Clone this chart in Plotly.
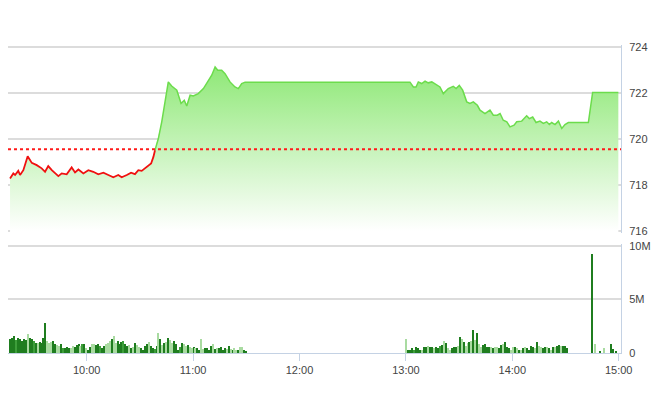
import plotly.graph_objects as go
import pandas as pd

DAY = "2019-01-02 "

# ---- price (index) data ----
red_times = ["09:16:45", "09:18:36", "09:19:36", "09:21:24", "09:22:24", "09:24:15", "09:26:42",
             "09:29:00", "09:31:48", "09:34:36", "09:36:30", "09:38:18", "09:40:18", "09:42:06",
             "09:44:00", "09:45:54", "09:48:42", "09:51:30", "09:53:24", "09:55:18", "09:58:06",
             "10:00:54", "10:03:42", "10:06:30", "10:09:24", "10:12:12", "10:15:00", "10:17:48",
             "10:19:42", "10:22:36", "10:25:00", "10:27:12", "10:29:06", "10:31:00", "10:33:48",
             "10:36:18", "10:37:36", "10:38:30"]
red_prices = [718.28, 718.50, 718.43, 718.61, 718.43, 718.64, 719.25,
              718.96, 718.86, 718.72, 718.57, 718.82, 718.64, 718.50,
              718.38, 718.50, 718.46, 718.76, 718.54, 718.67, 718.50,
              718.64, 718.57, 718.46, 718.53, 718.43, 718.33, 718.43,
              718.33, 718.43, 718.53, 718.47, 718.64, 718.61, 718.76,
              718.93, 719.22, 719.51]

green_times = ["10:38:30", "10:40:24", "10:42:18", "10:44:12", "10:46:00", "10:47:54", "10:50:48",
               "10:53:12", "10:55:00", "10:56:24", "10:58:18", "11:00:06", "11:02:54", "11:05:48",
               "11:08:36", "11:10:30", "11:12:24", "11:13:54", "11:16:06", "11:18:00", "11:20:48",
               "11:23:36", "11:25:30", "11:27:24", "11:29:18", "13:02:18", "13:04:12", "13:05:42",
               "13:07:00", "13:08:54", "13:10:48", "13:12:36", "13:14:36", "13:17:24", "13:19:12",
               "13:21:06", "13:23:54", "13:26:42", "13:28:18", "13:30:06", "13:32:00", "13:34:18",
               "13:36:06", "13:38:00", "13:40:18", "13:41:48", "13:44:36", "13:47:24", "13:49:18",
               "13:51:30", "13:53:06", "13:54:54", "13:56:54", "13:58:42", "14:01:00", "14:02:30",
               "14:05:18", "14:08:06", "14:09:36", "14:11:30", "14:13:24", "14:15:36", "14:17:30",
               "14:19:24", "14:20:54", "14:22:12", "14:24:06", "14:26:00", "14:26:54", "14:27:54",
               "14:29:42", "14:31:36", "14:42:54", "14:45:18", "14:59:48"]
green_prices = [719.51, 720.02, 720.75, 721.62, 722.49, 722.31, 722.13,
                721.55, 721.69, 721.44, 721.91, 721.88, 721.98, 722.20,
                722.56, 722.78, 723.14, 723.00, 723.00, 722.85, 722.49,
                722.27, 722.20, 722.42, 722.48, 722.48, 722.27, 722.27,
                722.49, 722.42, 722.52, 722.45, 722.49, 722.34, 722.27,
                721.98, 722.20, 722.30, 722.20, 722.34, 722.13, 721.62,
                721.55, 721.62, 721.47, 721.26, 721.11, 721.26, 721.04,
                721.04, 721.11, 720.82, 720.75, 720.53, 720.60, 720.75,
                720.78, 721.01, 720.89, 720.96, 720.72, 720.78, 720.68,
                720.75, 720.63, 720.72, 720.63, 720.78, 720.60, 720.46,
                720.63, 720.72, 720.72, 722.03, 722.03]

ref_price = 719.55

# ---- volume data (millions) ----
vol_am = [1.31, 1.46, 1.62, 1.25, 1.46, 1.37, 1.15, 1.31, 1.25, 1.78,
          1.46, 1.31, 1.15, 1.00, 1.00, 1.06, 1.00, 1.46, 2.87, 1.15,
          1.00, 1.06, 1.15, 0.84, 0.75, 0.69, 0.84, 0.53, 0.53, 0.62,
          0.53, 0.53, 0.69, 0.62, 0.75, 0.93, 0.69, 0.84, 0.93, 0.53,
          0.37, 0.62, 0.84, 0.93, 0.75, 0.84, 0.69, 0.53, 0.69, 0.84,
          1.00, 1.15, 1.31, 1.62, 1.00, 1.15, 0.84, 1.06, 1.15, 0.84,
          0.69, 0.75, 0.53, 0.62, 1.00, 0.75, 0.62, 0.53, 0.37, 0.69,
          0.93, 1.06, 0.69, 0.53, 0.44, 0.69, 1.93, 1.31, 0.75, 1.00,
          1.06, 1.46, 1.25, 1.00, 1.15, 0.84, 0.37, 0.62, 1.00, 0.84,
          0.69, 0.75, 0.62, 0.53, 0.62, 0.50, 0.53, 0.37, 1.37, 0.44,
          0.53, 0.53, 0.37, 0.69, 0.84, 0.44, 0.53, 0.53, 0.62, 0.37,
          0.53, 0.44, 0.69, 0.44, 0.37, 0.53, 0.31, 0.37, 0.62, 0.62,
          0.37, 0.22]
col_am = ("dddmdddddl" "ddmdlddddl" "llddlldmdd" "dlldddlmdl" "ddllddmddl"
          "lldlldddmd" "dldldllddd" "dlddmdldld" "ldlldddmdl" "ldlldlddll"
          "ddddldlddd" "dldldlldll" "dd")

vol_pm = [1.31, 0.31, 0.37, 0.47, 0.31, 0.56, 0.47, 0.37, 0.31, 0.62,
          0.56, 0.69, 0.56, 0.62, 0.47, 0.62, 0.47, 0.69, 0.78, 1.18,
          1.00, 0.47, 0.37, 0.47, 0.56, 0.62, 0.69, 1.56, 1.31, 1.09,
          0.69, 1.00, 1.09, 1.18, 2.18, 1.25, 1.93, 0.93, 0.56, 0.78,
          0.87, 0.62, 0.56, 0.62, 0.47, 0.56, 0.62, 0.47, 0.78, 0.93,
          1.09, 0.56, 0.47, 0.37, 0.62, 0.56, 0.47, 0.31, 0.37, 0.47,
          0.56, 0.47, 0.31, 0.69, 0.56, 0.47, 1.09, 0.69, 0.56, 0.47,
          0.62, 0.56, 0.47, 0.37, 0.56, 0.62, 0.69, 0.78, 0.69, 0.69,
          0.69, 0.47]
col_pm = ("ldddmdddld" "dlddlddmdl" "dlldddldld" "lldldldlld" "dddldllddl"
          "dddlldldld" "lddddldlld" "dldldlddld" "dd")

atc_times = ["14:45:18", "14:46:30", "14:49:48", "14:51:42", "14:55:30", "14:56:36", "14:58:24"]
atc_vol = [9.30, 0.87, 0.25, 0.50, 0.93, 0.40, 0.20]
col_atc = "dldlddd"

x_ticks = ["10:00", "11:00", "12:00", "13:00", "14:00", "15:00"]
price_ticks = [716, 718, 720, 722, 724]
vol_ticks = [0, 5, 10]
vol_tick_text = ["0", "5M", "10M"]

# ---- build ----
palette = {"d": "#1f7d1f", "m": "#3d9e3a", "l": "#a9dba1"}

am_x = pd.date_range(DAY + "09:17", DAY + "11:30", periods=len(vol_am))
pm_x = pd.date_range(DAY + "13:00", DAY + "14:31", periods=len(vol_pm))
vol_x = list(am_x) + list(pm_x) + [pd.Timestamp(DAY + t) for t in atc_times]
vol_y = [v * 1e6 for v in vol_am + vol_pm + atc_vol]
vol_c = [palette[c] for c in col_am + col_pm + col_atc]

rx = [DAY + t for t in red_times]
gx = [DAY + t for t in green_times]
all_x = rx + gx[1:]
all_y = red_prices + green_prices[1:]

font_fam = "Liberation Sans, Arial, sans-serif"

fig = go.Figure()
fig.add_trace(go.Scatter(
    x=all_x, y=all_y, mode="lines", line=dict(width=0), fill="tozeroy",
    fillgradient=dict(type="vertical", start=716, stop=723.2,
                      colorscale=[[0, "rgba(255,255,255,1)"], [1, "rgb(142,232,118)"]]),
    hoverinfo="skip", showlegend=False, xaxis="x", yaxis="y"))
fig.add_trace(go.Scatter(x=gx, y=green_prices, mode="lines",
                         line=dict(color="#6cdc4c", width=1.5), showlegend=False,
                         xaxis="x", yaxis="y"))
fig.add_trace(go.Scatter(x=rx, y=red_prices, mode="lines",
                         line=dict(color="#f01010", width=1.8), showlegend=False,
                         xaxis="x", yaxis="y"))
fig.add_trace(go.Bar(x=vol_x, y=vol_y, marker=dict(color=vol_c, line=dict(width=0)),
                     width=45000, showlegend=False, xaxis="x2", yaxis="y2"))

fig.add_shape(type="line", xref="x domain", yref="y", x0=0, x1=1, y0=ref_price, y1=ref_price,
              line=dict(color="#ff1a1a", width=2, dash="dot"), layer="above")

xr = [DAY + "09:15:36", DAY + "15:01:18"]
grid = "#dcdcdc"
axis_line = "#c4d2e4"
tick_font = dict(family=font_fam, size=11, color="#444444")

# The page body has an 8px margin, so the figure is placed from (8, 8).
fig.update_layout(
    template="none",
    width=644, height=396,
    margin=dict(l=0, r=31, t=37, b=51, autoexpand=False),
    paper_bgcolor="white", plot_bgcolor="white",
    bargap=0,
    xaxis=dict(domain=[0, 1], anchor="y", range=xr, type="date", showticklabels=False,
               showgrid=False, zeroline=False, showline=False, ticks="", automargin=False),
    xaxis2=dict(domain=[0, 1], anchor="y2", range=xr, type="date", matches="x",
                tickvals=[DAY + t for t in x_ticks], ticktext=x_ticks,
                showgrid=False, zeroline=False, showline=True, linecolor=axis_line, linewidth=1,
                ticks="outside", ticklen=7, tickcolor=axis_line, tickwidth=1, tickfont=tick_font,
                automargin=False),
    yaxis=dict(domain=[0.3896, 1], anchor="x", side="right", range=[715.9, 724.1],
               tickvals=price_ticks, showgrid=True, gridcolor=grid, gridwidth=2,
               zeroline=False, showline=True, linecolor=axis_line, linewidth=1,
               ticks="", ticklabelstandoff=5, tickfont=tick_font, automargin=False),
    yaxis2=dict(domain=[0, 0.3555], anchor="x2", side="right", range=[0, 10.2e6],
                tickvals=[v * 1e6 for v in vol_ticks], ticktext=vol_tick_text,
                showgrid=True, gridcolor=grid, gridwidth=2,
                zeroline=False, showline=True, linecolor=axis_line, linewidth=1,
                ticks="", ticklabelstandoff=5, tickfont=tick_font, automargin=False),
)

fig.write_html("out.html")
